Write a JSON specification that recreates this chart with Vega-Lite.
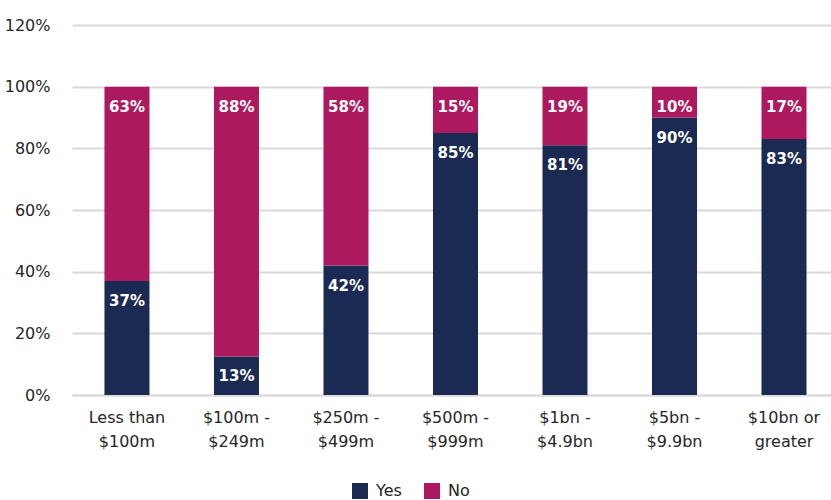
{
  "$schema": "https://vega.github.io/schema/vega-lite/v6.json",
  "width": 759,
  "height": 370,
  "autosize": {"type": "none"},
  "padding": {"left": 72, "top": 25, "right": 0, "bottom": 105},
  "background": "white",
  "config": {
    "view": {"stroke": null},
    "font": "DejaVu Sans"
  },
  "data": {
    "values": [
      {"category": "Less than|$100m", "series": "Yes", "value": 0.37, "label": "37%"},
      {"category": "Less than|$100m", "series": "No", "value": 0.63, "label": "63%"},
      {"category": "$100m -|$249m", "series": "Yes", "value": 0.125, "label": "13%"},
      {"category": "$100m -|$249m", "series": "No", "value": 0.875, "label": "88%"},
      {"category": "$250m -|$499m", "series": "Yes", "value": 0.42, "label": "42%"},
      {"category": "$250m -|$499m", "series": "No", "value": 0.58, "label": "58%"},
      {"category": "$500m -|$999m", "series": "Yes", "value": 0.85, "label": "85%"},
      {"category": "$500m -|$999m", "series": "No", "value": 0.15, "label": "15%"},
      {"category": "$1bn -|$4.9bn", "series": "Yes", "value": 0.81, "label": "81%"},
      {"category": "$1bn -|$4.9bn", "series": "No", "value": 0.19, "label": "19%"},
      {"category": "$5bn -|$9.9bn", "series": "Yes", "value": 0.90, "label": "90%"},
      {"category": "$5bn -|$9.9bn", "series": "No", "value": 0.10, "label": "10%"},
      {"category": "$10bn or|greater", "series": "Yes", "value": 0.83, "label": "83%"},
      {"category": "$10bn or|greater", "series": "No", "value": 0.17, "label": "17%"}
    ]
  },
  "encoding": {
    "x": {
      "field": "category",
      "type": "nominal",
      "sort": null,
      "scale": {"paddingInner": 0.589, "paddingOuter": 0.26, "align": 0.57},
      "axis": {
        "title": null,
        "labelAngle": 0,
        "labelExpr": "split(datum.value, '|')",
        "labelFontSize": 16,
        "labelColor": "#262626",
        "labelLineHeight": 24,
        "labelPadding": 14,
        "labelBaseline": "top",
        "ticks": false,
        "domain": true,
        "domainColor": "#d9d9d9",
        "domainWidth": 2
      }
    },
    "y": {
      "field": "value",
      "type": "quantitative",
      "stack": "zero",
      "scale": {"domain": [0, 1.2], "nice": false},
      "axis": {
        "title": null,
        "format": ".0%",
        "values": [0, 0.2, 0.4, 0.6, 0.8, 1.0, 1.2],
        "labelFontSize": 16,
        "labelColor": "#262626",
        "labelPadding": 22,
        "ticks": false,
        "domain": false,
        "grid": true,
        "gridColor": "#d9d9d9",
        "gridWidth": 2
      }
    },
    "order": {"field": "series", "sort": "descending"}
  },
  "layer": [
    {
      "mark": {"type": "bar"},
      "encoding": {
        "color": {
          "field": "series",
          "type": "nominal",
          "scale": {"domain": ["Yes", "No"], "range": ["#1b2a52", "#ad195e"]},
          "legend": {
            "title": null,
            "orient": "none",
            "direction": "horizontal",
            "legendX": 280,
            "legendY": 458,
            "symbolType": "square",
            "symbolSize": 256,
            "symbolStrokeWidth": 0,
            "labelFontSize": 16,
            "labelColor": "#262626",
            "labelOffset": 8,
            "columnPadding": 22
          }
        }
      }
    },
    {
      "mark": {"type": "text", "baseline": "top", "dy": 13, "color": "white", "fontWeight": "bold", "fontSize": 15},
      "encoding": {
        "text": {"field": "label"}
      }
    }
  ]
}
